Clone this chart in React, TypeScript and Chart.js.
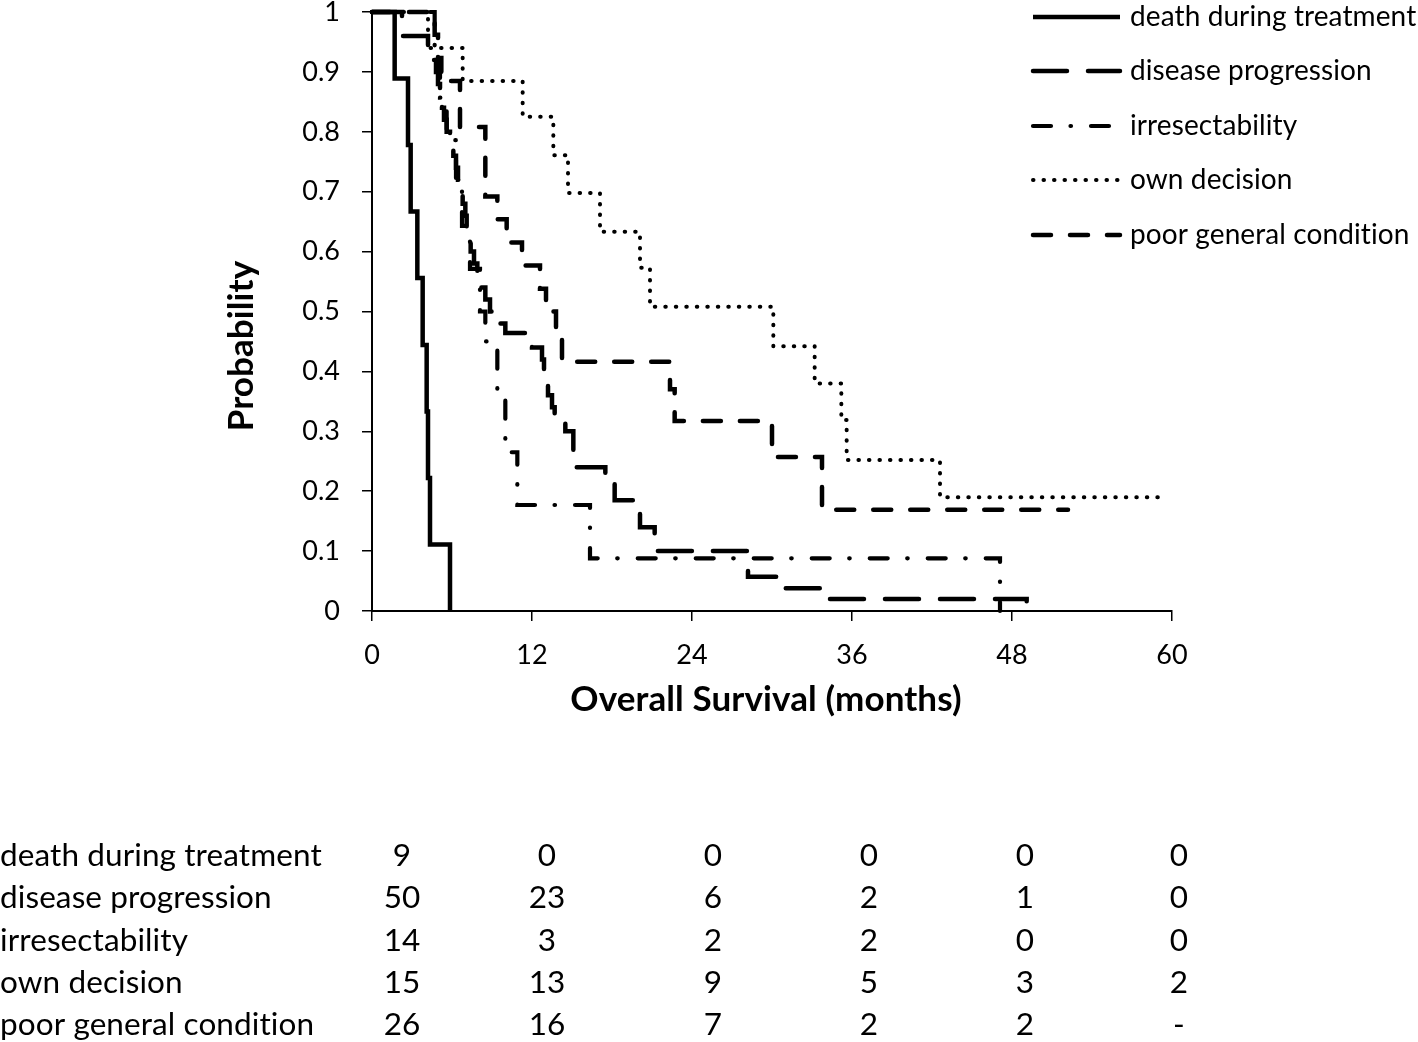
import React, { useEffect, useRef } from "react";
import { Chart, registerables } from "chart.js";

Chart.register(...registerables);

const FONT = "Lato, 'Open Sans', sans-serif";

// ---- series (months, survival probability) ----
const seriesNames = [
  "death during treatment",
  "disease progression",
  "irresectability",
  "own decision",
  "poor general condition",
];

const deathTime = [0, 1.7, 2.7, 2.9, 3.4, 3.8, 4.1, 4.2, 4.35, 5.85];
const deathSurv = [1, 0.889, 0.778, 0.667, 0.556, 0.444, 0.333, 0.222, 0.111, 0];

const progressionTime = [0, 2.25, 4.2, 4.5, 4.8, 4.95, 5.1, 5.25, 5.4, 5.6, 5.85, 6.1, 6.3, 6.45, 6.7, 6.8, 7.0, 7.1, 7.3, 7.4, 7.65, 7.9, 8.1, 8.5, 8.85, 9.4, 10.0, 12.0, 12.75, 12.9, 13.05, 13.2, 13.5, 13.7, 14.5, 15.1, 17.5, 18.2, 20.1, 21.2, 28.2, 31.0, 33.6, 49.1];
const progressionSurv = [1, 0.96, 0.94, 0.92, 0.9, 0.88, 0.86, 0.84, 0.82, 0.8, 0.78, 0.76, 0.74, 0.72, 0.7, 0.68, 0.66, 0.64, 0.62, 0.6, 0.58, 0.56, 0.54, 0.52, 0.5, 0.48, 0.464, 0.44, 0.42, 0.4, 0.38, 0.36, 0.34, 0.32, 0.3, 0.24, 0.22, 0.185, 0.14, 0.1, 0.057, 0.038, 0.02, 0];

const irresectTime = [0, 4.7, 5.1, 5.6, 6.3, 6.75, 7.35, 8.1, 8.5, 9.4, 10.0, 10.9, 16.35, 47.1];
const irresectSurv = [1, 0.929, 0.857, 0.786, 0.714, 0.643, 0.571, 0.5, 0.45, 0.37, 0.265, 0.177, 0.088, 0];

const ownTime = [0, 4.2, 6.8, 11.3, 13.6, 14.7, 17.1, 20.1, 20.85, 30.1, 33.2, 35.2, 35.6, 42.6, 59.6];
const ownSurv = [1, 0.94, 0.885, 0.825, 0.761, 0.698, 0.633, 0.573, 0.508, 0.442, 0.38, 0.319, 0.252, 0.19, 0.19];

const poorTime = [0, 4.7, 4.95, 5.2, 6.6, 8.5, 9.4, 10.1, 11.25, 12.6, 13.05, 13.8, 14.25, 22.35, 22.7, 30.0, 33.75, 52.2];
const poorSurv = [1, 0.962, 0.923, 0.885, 0.808, 0.692, 0.654, 0.615, 0.577, 0.538, 0.5, 0.46, 0.416, 0.37, 0.317, 0.257, 0.169, 0.169];

// ---- axes ----
const xTickValues = [0, 12, 24, 36, 48, 60];
const yTickValues = [0, 0.1, 0.2, 0.3, 0.4, 0.5, 0.6, 0.7, 0.8, 0.9, 1];
const yTickLabels = ["0", "0.1", "0.2", "0.3", "0.4", "0.5", "0.6", "0.7", "0.8", "0.9", "1"];
const xTitle = "Overall Survival (months)";
const yTitle = "Probability";

// ---- numbers at risk ----
const atRiskDeath = ["9", "0", "0", "0", "0", "0"];
const atRiskProgression = ["50", "23", "6", "2", "1", "0"];
const atRiskIrresect = ["14", "3", "2", "2", "0", "0"];
const atRiskOwn = ["15", "13", "9", "5", "3", "2"];
const atRiskPoor = ["26", "16", "7", "2", "2", "-"];

// ---- layout constants ----
const W = 1418;
const H = 1042;
const tableColX = [402, 547, 713, 869, 1025, 1179];
const tableRowY = [856, 898, 941, 983, 1025];
const legendRowY = [17, 71, 126, 180, 235];

function stepPoints(t: number[], s: number[]) {
  const pts: { x: number; y: number }[] = [{ x: t[0], y: s[0] }];
  for (let i = 1; i < t.length; i++) {
    if (s[i] !== s[i - 1]) pts.push({ x: t[i], y: s[i - 1] });
    pts.push({ x: t[i], y: s[i] });
  }
  return pts;
}

const overlayPlugin = {
  id: "overlay",
  afterDraw(chart: any) {
    const ctx = chart.ctx as CanvasRenderingContext2D;
    ctx.save();
    ctx.fillStyle = "#000";
    ctx.strokeStyle = "#000";
    (ctx as any).letterSpacing = "0.1px";
    // legend
    chart.data.datasets.forEach((ds: any, i: number) => {
      const y = legendRowY[i];
      ctx.beginPath();
      ctx.setLineDash(ds.borderDash || []);
      ctx.lineDashOffset = 0;
      ctx.lineWidth = ds.borderWidth;
      ctx.lineCap = ds.borderCapStyle || "butt";
      ctx.moveTo(1033, y);
      ctx.lineTo(1120, y);
      ctx.stroke();
      ctx.setLineDash([]);
      ctx.font = `28px ${FONT}`;
      ctx.textAlign = "left";
      ctx.textBaseline = "middle";
      ctx.fillText(ds.label, 1130, y);
    });
    // titles
    ctx.font = `bold 35px ${FONT}`;
    ctx.textAlign = "center";
    ctx.textBaseline = "middle";
    ctx.fillText(xTitle, 766, 700);
    ctx.save();
    ctx.translate(242, 346);
    ctx.rotate(-Math.PI / 2);
    ctx.fillText(yTitle, 0, 0);
    ctx.restore();
    // at-risk table
    const rows = [atRiskDeath, atRiskProgression, atRiskIrresect, atRiskOwn, atRiskPoor];
    ctx.font = `31.5px ${FONT}`;
    rows.forEach((row, r) => {
      const y = tableRowY[r];
      ctx.textAlign = "left";
      ctx.fillText(seriesNames[r], 0, y);
      ctx.textAlign = "center";
      row.forEach((v, c) => ctx.fillText(v, tableColX[c], y));
    });
    ctx.restore();
  },
};

export default function App() {
  const ref = useRef<HTMLCanvasElement | null>(null);
  useEffect(() => {
    if (!ref.current) return;
    const common = { pointRadius: 0, borderColor: "#000", fill: false, tension: 0, clip: false as any };
    const chart = new Chart(ref.current, {
      type: "line",
      data: {
        datasets: [
          { ...common, label: seriesNames[0], data: stepPoints(deathTime, deathSurv), borderWidth: 4.5, borderDash: [], borderCapStyle: "butt" },
          { ...common, label: seriesNames[1], data: stepPoints(progressionTime, progressionSurv), borderWidth: 4.5, borderDash: [34, 21], borderCapStyle: "round" },
          { ...common, label: seriesNames[2], data: stepPoints(irresectTime, irresectSurv), borderWidth: 4.2, borderDash: [18, 19.5, 0.5, 20], borderCapStyle: "round" },
          { ...common, label: seriesNames[3], data: stepPoints(ownTime, ownSurv), borderWidth: 4, borderDash: [0.5, 10], borderCapStyle: "round" },
          { ...common, label: seriesNames[4], data: stepPoints(poorTime, poorSurv), borderWidth: 4.5, borderDash: [18, 19], borderCapStyle: "round" },
        ] as any,
      },
      options: {
        responsive: false,
        animation: false,
        devicePixelRatio: 1,
        layout: { padding: { left: 0, right: W - 1172, top: 12, bottom: H - 611 - 100 } },
        plugins: { legend: { display: false }, tooltip: { enabled: false } },
        scales: {
          x: {
            type: "linear",
            min: 0,
            max: 60,
            afterBuildTicks: (s: any) => {
              s.ticks = xTickValues.map((v) => ({ value: v }));
            },
            afterFit: (s: any) => {
              s.height = 100;
              s.paddingLeft = 0;
              s.paddingRight = 0;
            },
            grid: { drawOnChartArea: false, drawTicks: true, tickLength: 10, color: "#000", lineWidth: 1.5 },
            border: { display: true, color: "#000", width: 2 },
            ticks: {
              color: "#000",
              font: { family: FONT, size: 27 },
              padding: 18,
              maxRotation: 0,
              autoSkip: false,
              callback: (v: any) => String(v),
            },
          },
          y: {
            type: "linear",
            min: 0,
            max: 1,
            afterBuildTicks: (s: any) => {
              s.ticks = yTickValues.map((v) => ({ value: v }));
            },
            afterFit: (s: any) => {
              s.width = 372;
              s.paddingTop = 0;
              s.paddingBottom = 0;
            },
            grid: { drawOnChartArea: false, drawTicks: true, tickLength: 10, color: "#000", lineWidth: 1.5 },
            border: { display: true, color: "#000", width: 2 },
            ticks: {
              color: "#000",
              font: { family: FONT, size: 27 },
              padding: 22,
              autoSkip: false,
              callback: (_v: any, i: number) => yTickLabels[i],
            },
          },
        },
      } as any,
      plugins: [overlayPlugin],
    });
    return () => chart.destroy();
  }, []);
  return (
    <div style={{ position: "absolute", left: 0, top: 0, width: W, height: H, background: "#fff" }}>
      <canvas ref={ref} width={W} height={H} style={{ display: "block", width: W, height: H }} />
    </div>
  );
}
